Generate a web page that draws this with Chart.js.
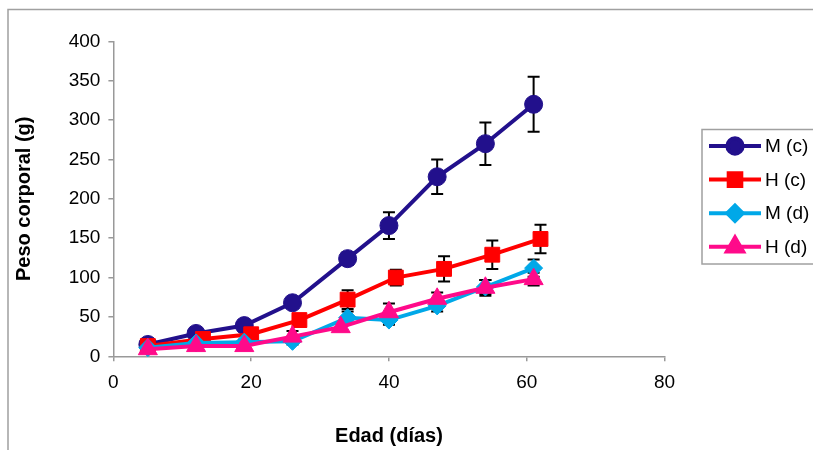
<!DOCTYPE html>
<html>
<head>
<meta charset="utf-8">
<script src="https://cdn.jsdelivr.net/npm/chart.js"></script>
<style>
  html, body { margin: 0; padding: 0; background: #fff; }
</style>
</head>
<body>
<canvas id="myChart" width="813" height="450"></canvas>
<script>
var seriesNames = ['M (c)', 'H (c)', 'M (d)', 'H (d)'];

var mcDays = [5, 12, 19, 26, 34, 40, 47, 54, 61];
var mcWeight = [15, 29, 39, 68, 124, 166, 228, 270, 320];
var mcError = [3, 4, 5, 6, 8, 17, 22, 27, 35];

var hcDays = [5, 13, 20, 27, 34, 41, 48, 55, 62];
var hcWeight = [13, 22, 28, 46, 72, 100, 111, 129, 149];
var hcError = [2, 3, 4, 5, 12, 10, 16, 18, 18];

var mdDays = [5, 12, 19, 26, 34, 40, 47, 54, 61];
var mdWeight = [11, 17, 18, 19, 49, 46, 64, 88, 112];
var mdError = [2, 2, 3, 4, 8, 6, 7, 9, 11];

var hdDays = [5, 12, 19, 26, 33, 40, 47, 54, 61];
var hdWeight = [9, 13, 13, 25, 37, 56, 73, 87, 98];
var hdError = [2, 2, 3, 7, 5, 11, 8, 10, 8];

var xTicks = [0, 20, 40, 60, 80];
var yTicks = [0, 50, 100, 150, 200, 250, 300, 350, 400];

var FONT = "'Liberation Sans', Arial, sans-serif";

function points(days, weight) {
    return days.map(function(d, i) { return { x: d, y: weight[i] }; });
}

function makeSet(label, days, weight, errors, color, style, radius, order) {
    return {
        label: label,
        data: points(days, weight),
        errors: errors,
        borderColor: color,
        backgroundColor: color,
        borderWidth: 4,
        pointStyle: style,
        pointRadius: radius,
        pointHoverRadius: radius,
        pointBorderWidth: 1,
        pointBackgroundColor: color,
        pointBorderColor: color,
        showLine: true,
        fill: false,
        tension: 0,
        clip: false,
        order: order
    };
}

// error bars, drawn under the lines and markers
var errorBars = {
    id: 'errorBars',
    beforeDatasetsDraw: function(chart) {
        var ctx = chart.ctx;
        var xs = chart.scales.x, ys = chart.scales.y;
        ctx.save();
        ctx.strokeStyle = '#000';
        ctx.lineWidth = 2;
        chart.data.datasets.forEach(function(ds) {
            ds.data.forEach(function(p, j) {
                var e = ds.errors[j];
                var px = xs.getPixelForValue(p.x);
                var top = ys.getPixelForValue(p.y + e);
                var bot = ys.getPixelForValue(p.y - e);
                ctx.beginPath();
                ctx.moveTo(px, top); ctx.lineTo(px, bot);
                ctx.moveTo(px - 6, top); ctx.lineTo(px + 6, top);
                ctx.moveTo(px - 6, bot); ctx.lineTo(px + 6, bot);
                ctx.stroke();
            });
        });
        ctx.restore();
    }
};

// outer frame and the boxed legend on the right
var frameLegend = {
    id: 'frameLegend',
    beforeDraw: function(chart) {
        var ctx = chart.ctx;
        ctx.save();
        ctx.fillStyle = '#fff';
        ctx.fillRect(0, 0, chart.width, chart.height);
        ctx.strokeStyle = '#a0a0a0';
        ctx.lineWidth = 1.5;
        ctx.strokeRect(8, 9.5, 900, 600);
        ctx.restore();
    },
    afterDraw: function(chart) {
        var ctx = chart.ctx;
        ctx.save();
        ctx.strokeStyle = '#a0a0a0';
        ctx.lineWidth = 1.5;
        ctx.strokeRect(702, 129.5, 200, 134.5);
        ctx.font = '19px ' + FONT;
        ctx.textBaseline = 'middle';
        ctx.textAlign = 'left';
        chart.data.datasets.forEach(function(ds, i) {
            var y = 146 + i * 33.6;
            ctx.strokeStyle = ds.borderColor;
            ctx.lineWidth = 4;
            ctx.beginPath();
            ctx.moveTo(709, y); ctx.lineTo(761, y);
            ctx.stroke();
            ctx.fillStyle = ds.borderColor;
            Chart.helpers.drawPoint(ctx, {
                pointStyle: ds.pointStyle,
                radius: ds.pointRadius * 0.85,
                borderWidth: 1
            }, 735, y);
            ctx.fillStyle = '#000';
            ctx.fillText(ds.label, 765, y + 1);
        });
        ctx.restore();
    }
};

var ctx = document.getElementById('myChart').getContext('2d');
var myChart = new Chart(ctx, {
    type: 'scatter',
    data: {
        datasets: [
            makeSet(seriesNames[0], mcDays, mcWeight, mcError, '#22108c', 'circle', 9, 4),
            makeSet(seriesNames[1], hcDays, hcWeight, hcError, '#ff0000', 'rect', 10.5, 3),
            makeSet(seriesNames[2], mdDays, mdWeight, mdError, '#00a8e8', 'rectRot', 9, 2),
            makeSet(seriesNames[3], hdDays, hdWeight, hdError, '#ff0a8a', 'triangle', 11, 1)
        ]
    },
    options: {
        responsive: false,
        animation: false,
        events: [],
        layout: {
            padding: { left: 0, top: 41.3, right: 148.5, bottom: 0 }
        },
        plugins: {
            legend: { display: false },
            tooltip: { enabled: false }
        },
        scales: {
            x: {
                type: 'linear',
                position: 'bottom',
                min: 0,
                max: 80,
                afterBuildTicks: function(scale) {
                    scale.ticks = xTicks.map(function(v) { return { value: v }; });
                },
                afterFit: function(scale) {
                    scale.height = 450 - 356.3;
                    scale.paddingLeft = 0;
                    scale.paddingRight = 0;
                },
                border: { color: '#999', width: 1.5 },
                grid: { drawOnChartArea: false, color: '#999', tickLength: 5, lineWidth: 1.5 },
                ticks: { color: '#000', padding: 10, maxRotation: 0, font: { family: FONT, size: 19 } },
                title: {
                    display: true,
                    text: 'Edad (días)',
                    color: '#000',
                    padding: { top: 2, bottom: 2 },
                    font: { family: FONT, size: 20, weight: 'bold' }
                }
            },
            y: {
                type: 'linear',
                min: 0,
                max: 400,
                afterBuildTicks: function(scale) {
                    scale.ticks = yTicks.map(function(v) { return { value: v }; });
                },
                afterFit: function(scale) {
                    scale.width = 113.4;
                    scale.paddingTop = 0;
                    scale.paddingBottom = 0;
                },
                border: { color: '#999', width: 1.5 },
                grid: { drawOnChartArea: false, color: '#999', tickLength: 5, lineWidth: 1.5 },
                ticks: { color: '#000', padding: 8, font: { family: FONT, size: 19 } },
                title: {
                    display: true,
                    text: 'Peso corporal (g)',
                    color: '#000',
                    padding: { top: 12, bottom: 12 },
                    font: { family: FONT, size: 20, weight: 'bold' }
                }
            }
        }
    },
    plugins: [errorBars, frameLegend]
});
</script>
</body>
</html>
